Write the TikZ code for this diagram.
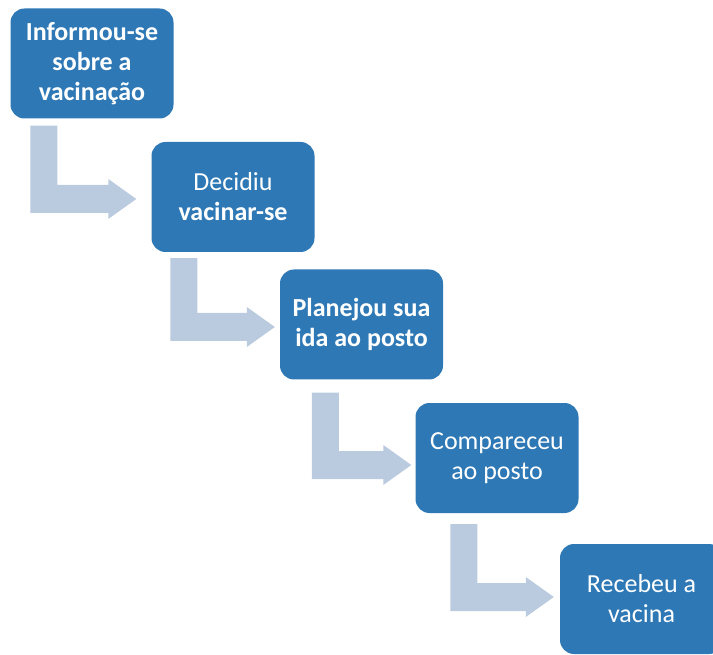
\documentclass[tikz,border=0pt]{standalone}
\usepackage{fontspec}
\setmainfont{Carlito}
\usetikzlibrary{calc}
\definecolor{boxblue}{HTML}{2E78B5}
\definecolor{arrowc}{HTML}{BBCBDF}
\tikzset{
  stepbox/.style={fill=boxblue, draw=none, rounded corners=14pt,
    minimum width=163pt, minimum height=110pt,
    align=center, text=white, inner sep=0pt,
    font=\fontsize{26}{30}\selectfont}
}
% #1 from, #2 to, #3 left offset, #4 top gap, #5 tip gap, #6 centre shift
\newcommand\bentarrow[6]{%
  \fill[arrowc] let \p1=(#1.south west), \p2=(#2.west) in
    (\x1+#3, \y1-#4) -- (\x1+#3, \y2+#6-14pt) -- (\x2-#5-28pt, \y2+#6-14pt)
    -- (\x2-#5-28pt, \y2+#6-20pt) -- (\x2-#5, \y2+#6)
    -- (\x2-#5-28pt, \y2+#6+20pt) -- (\x2-#5-28pt, \y2+#6+14pt)
    -- (\x1+#3+27pt, \y2+#6+14pt) -- (\x1+#3+27pt, \y1-#4) -- cycle;}
\begin{document}
\begin{tikzpicture}[x=1pt,y=-1pt]
\useasboundingbox (0,0) rectangle (713,655);
\clip (0,0) rectangle (713,655);
\node[stepbox] (b1) at (92,63.5) {\bfseries Informou-se\\\bfseries sobre a\\\bfseries vacinação};
\node[stepbox] (b2) at (233,197) {Decidiu\\\bfseries vacinar-se};
\node[stepbox] (b3) at (361.5,324.5) {\bfseries Planejou sua\\\bfseries ida ao posto};
\node[stepbox] (b4) at (497,458) {Compareceu\\ao posto};
\node[stepbox] (b5) at (641.5,599) {Recebeu a\\vacina};
\bentarrow{b1}{b2}{20pt}{7pt}{15pt}{-2pt}
\bentarrow{b2}{b3}{19pt}{6pt}{5pt}{-2.5pt}
\bentarrow{b3}{b4}{32pt}{13pt}{4pt}{-7pt}
\bentarrow{b4}{b5}{35pt}{11pt}{6pt}{2pt}
\end{tikzpicture}
\end{document}
